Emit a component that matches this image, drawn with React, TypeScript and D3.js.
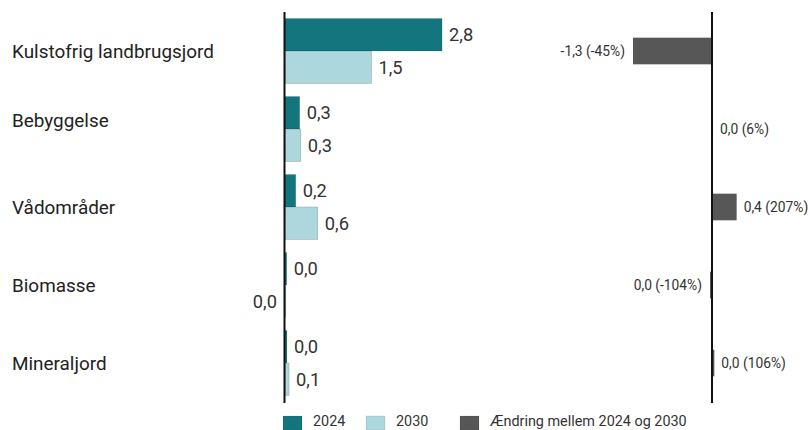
import React from "react";
import * as d3 from "d3";

const categories = ["Kulstofrig landbrugsjord", "Bebyggelse", "Vådområder", "Biomasse", "Mineraljord"];
const values2024 = [2.78, 0.26, 0.19, 0.03, 0.035];
const values2030 = [1.53, 0.28, 0.58, -0.001, 0.072];
const changeValues = [-1.25, 0.016, 0.39, -0.031, 0.037];
const changePct = [-45, 6, 207, -104, 106];
const legendLabels = ["2024", "2030", "Ændring mellem 2024 og 2030"];

const W = 810;
const H = 430;
const C2024 = "#13767e";
const C2030 = "#acd8dd";
const CCHG = "#575757";
const FONT = "Roboto, 'Noto Sans', sans-serif";

const fmt = (v: number) => {
  let s = v.toFixed(1);
  if (s === "-0.0") s = "0.0";
  return s.replace(".", ",");
};

export default function App() {
  const y = d3.scaleBand<string>().domain(categories).range([12, 402]).paddingInner(1 / 6).paddingOuter(1 / 12);
  const xL = d3.scaleLinear().domain([0, 3]).range([285, 285 + 169.5]);
  const xR = d3.scaleLinear().domain([-1.25, 0]).range([633, 712]);
  const bw = y.bandwidth();
  const half = bw / 2;
  const labelDy: Record<string, number> = { Bebyggelse: -9 };

  const leftBar = (v: number, yTop: number, fill: string, stroke: string) => {
    const x0 = xL(0);
    const x1 = xL(v);
    return (
      <rect x={Math.min(x0, x1)} y={yTop} width={Math.max(Math.abs(x1 - x0), 0.8)} height={half} fill={fill} stroke={stroke} strokeWidth={0.6} />
    );
  };
  const leftLabel = (v: number, yMid: number) => {
    const neg = v < 0;
    return (
      <text x={neg ? xL(v) - 8 : xL(v) + 7} y={yMid} dy="0.35em" textAnchor={neg ? "end" : "start"} fontSize={18.3} fill="#333">
        {fmt(v)}
      </text>
    );
  };

  return (
    <div style={{ position: "absolute", left: 0, top: 0 }}>
      <svg width={W} height={H} style={{ display: "block", fontFamily: FONT }}>
        <rect width={W} height={H} fill="#fff" />
        {categories.map((c, i) => {
          const top = y(c) as number;
          const mid = top + half;
          const cv = changeValues[i];
          const r0 = xR(0);
          const r1 = xR(cv);
          const chH = bw * 0.41;
          return (
            <g key={c}>
              <text x={12} y={mid + (labelDy[c] || 0)} dy="0.35em" fontSize={18.9} fill="#222">
                {c}
              </text>
              {leftBar(values2024[i], top, C2024, "rgba(0,0,0,0.15)")}
              {leftBar(values2030[i], top + half, C2030, "rgba(0,0,0,0.25)")}
              {leftLabel(values2024[i], top + half / 2)}
              {leftLabel(values2030[i], top + half * 1.5)}
              <rect x={Math.min(r0, r1)} y={mid - chH / 2} width={Math.abs(r1 - r0)} height={chH} fill={CCHG} />
              <text
                x={cv < 0 ? Math.min(r0, r1) - 8 : Math.max(r0, r1) + 7}
                y={mid}
                dy="0.35em"
                textAnchor={cv < 0 ? "end" : "start"}
                fontSize={13.8}
                fill="#333"
              >
                {`${fmt(cv)} (${changePct[i]}%)`}
              </text>
            </g>
          );
        })}
        <line x1={284.5} x2={284.5} y1={12} y2={403} stroke="#111" strokeWidth={2} />
        <line x1={712} x2={712} y1={12} y2={403} stroke="#111" strokeWidth={2} />
        {legendLabels.map((l, i) => {
          const xs = [283, 366, 460][i];
          const col = [C2024, C2030, CCHG][i];
          return (
            <g key={l}>
              <rect x={xs} y={416} width={19} height={14} fill={col} stroke="rgba(0,0,0,0.15)" strokeWidth={0.6} />
              <text x={xs + 30} y={426.3} fontSize={14.4} fill="#333">
                {l}
              </text>
            </g>
          );
        })}
      </svg>
    </div>
  );
}
